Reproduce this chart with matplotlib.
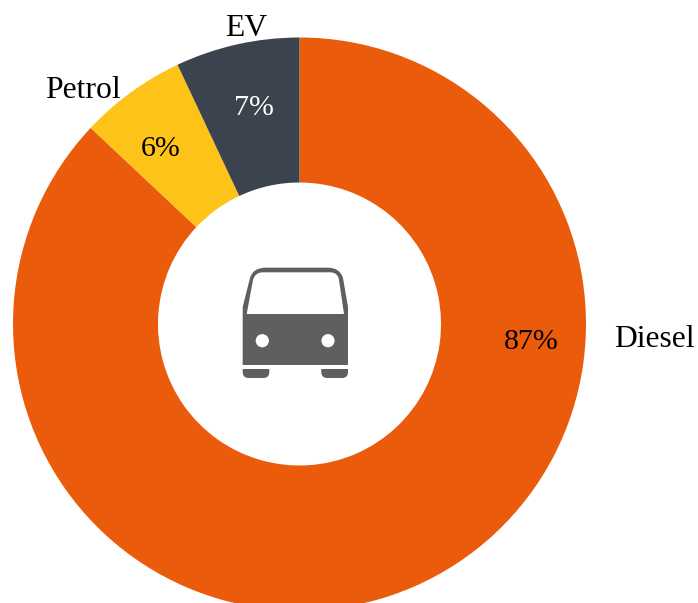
import matplotlib
matplotlib.use('Agg')
import matplotlib.pyplot as plt
from matplotlib.patches import Circle, PathPatch
from matplotlib.path import Path

labels = ['Diesel', 'Petrol', 'EV']
values = [87, 6, 7]
pct_labels = ['87%', '6%', '7%']
colors = ['#EA5B0C', '#FEC318', '#3A434E']
pct_colors = ['black', 'black', 'white']

plt.rcParams['font.family'] = ['Liberation Serif', 'DejaVu Serif']

W, H = 698, 603
fig = plt.figure(figsize=(W / 100, H / 100), dpi=100)
# axes in pixel coords so the bus icon is easy to place
ax = fig.add_axes([0, 0, 1, 1])
ax.set_xlim(0, W)
ax.set_ylim(H, 0)
ax.axis('off')

cx, cy, r = 299.5, 324, 286.5
ax2 = fig.add_axes([(cx - r) / W, 1 - (cy + r) / H, 2 * r / W, 2 * r / H])
wedges, _ = ax2.pie(values, colors=colors, startangle=90, counterclock=False, radius=1,
                    wedgeprops=dict(width=1 - 141.5 / r, linewidth=0))
ax2.set_xlim(-1, 1)
ax2.set_ylim(-1, 1)
ax2.set_zorder(0)
ax.set_zorder(1)
ax.patch.set_alpha(0)

pct_pos = [(531.5, 342), (160.5, 149), (254, 108)]
for t, p, c in zip(pct_labels, pct_pos, pct_colors):
    ax.text(p[0], p[1], t, color=c, fontsize=21.5, ha='center', va='center')
label_pos = [(654, 339.5), (83, 90), (246.5, 28)]
for t, p in zip(labels, label_pos):
    ax.text(p[0], p[1], t, color='black', fontsize=22.8, ha='center', va='center')

# bus icon, body with the window cut out (window runs the opposite way round)
grey = '#5F5F5F'
M, L, C = Path.MOVETO, Path.LINETO, Path.CURVE3
body_v = [(242.7, 365), (242.7, 307), (250, 278), (253, 267.7), (265, 267.7),
          (328, 267.7), (340, 267.7), (343, 278), (348, 307), (348, 365), (242.7, 365),
          (246.7, 314), (344, 314), (339, 280), (338, 272.3), (330, 272.3),
          (263, 272.3), (255, 272.3), (253, 280), (246.7, 314)]
body_c = [M, L, L, C, C, L, C, C, L, L, Path.CLOSEPOLY,
          M, L, L, C, C, L, C, C, Path.CLOSEPOLY]
ax.add_patch(PathPatch(Path(body_v, body_c), fc=grey, ec='none'))
ax.add_patch(Circle((262.3, 340.7), 6.6, fc='white', ec='none'))
ax.add_patch(Circle((328, 340.7), 6.6, fc='white', ec='none'))
for x0, x1 in [(242.7, 269.3), (321.3, 348)]:
    wheel_v = [(x0, 369), (x1, 369), (x1, 372), (x1, 378), (x1 - 6, 378),
               (x0 + 6, 378), (x0, 378), (x0, 372), (x0, 369)]
    wheel_c = [M, L, L, C, C, L, C, C, Path.CLOSEPOLY]
    ax.add_patch(PathPatch(Path(wheel_v, wheel_c), fc=grey, ec='none'))

fig.savefig('out.png', dpi=100)
